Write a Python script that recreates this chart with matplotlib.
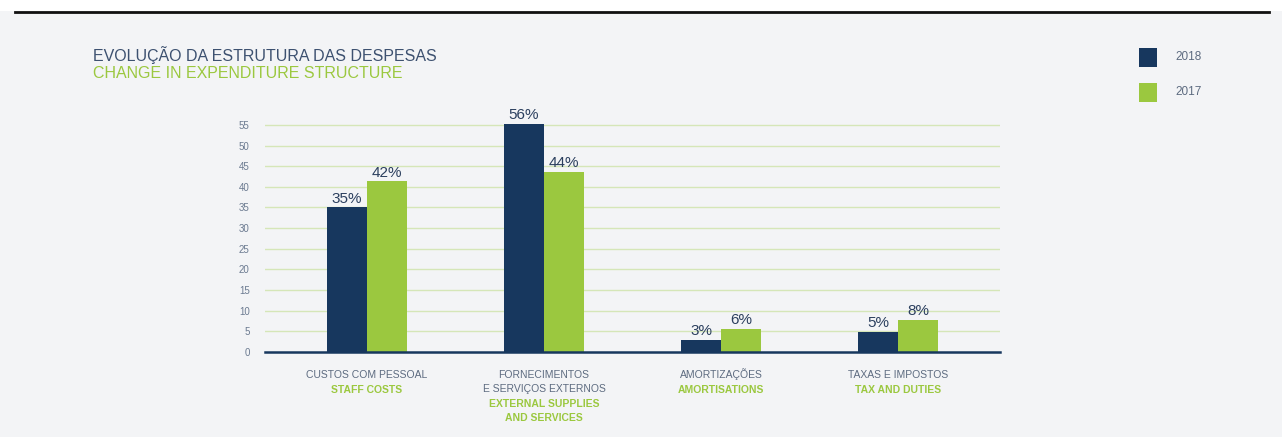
import matplotlib.pyplot as plt
import matplotlib.transforms as mtransforms
import numpy as np
from matplotlib.patches import Rectangle

# data
categories_pt = ["CUSTOS COM PESSOAL", "FORNECIMENTOS\nE SERVIÇOS EXTERNOS", "AMORTIZAÇÕES", "TAXAS E IMPOSTOS"]
categories_en = ["STAFF COSTS", "EXTERNAL SUPPLIES\nAND SERVICES", "AMORTISATIONS", "TAX AND DUTIES"]
values_2018 = [35.0, 55.3, 2.9, 4.9]
values_2017 = [41.3, 43.7, 5.6, 7.8]
labels_2018 = ["35%", "56%", "3%", "5%"]
labels_2017 = ["42%", "44%", "6%", "8%"]
yticks = [0, 5, 10, 15, 20, 25, 30, 35, 40, 45, 50, 55]

NAVY = "#17375e"
GREEN = "#9bc83f"
BG = "#f3f4f6"
GRID = "#d5e6b8"
TXT = "#3d5170"
TICK = "#6b7a90"

plt.rcParams["font.family"] = ["Liberation Sans Narrow", "Liberation Sans", "DejaVu Sans"]

W, H = 1282, 437
fig = plt.figure(figsize=(W / 100, H / 100), dpi=100, facecolor=BG)

# white strip and dark rule at the top
fig.patches.append(Rectangle((0, 1 - 11 / H), 1, 11 / H, transform=fig.transFigure,
                             facecolor="white", edgecolor="none", zorder=0))
fig.add_artist(plt.Line2D([0.012, 0.99], [1 - 11.5 / H, 1 - 11.5 / H], transform=fig.transFigure,
                          color="#111111", linewidth=2.0))

ax = fig.add_axes([265 / W, 1 - 352 / H, 735 / W, (352 - 116.6) / H])
ax.set_facecolor(BG)

x = np.arange(len(categories_pt))
w = 0.226
b1 = ax.bar(x - w / 2, values_2018, w, color=NAVY, zorder=3)
b2 = ax.bar(x + w / 2, values_2017, w, color=GREEN, zorder=3)

for rect, lab in zip(b1, labels_2018):
    ax.text(rect.get_x() + rect.get_width() / 2, rect.get_height() + 0.4, lab,
            ha="center", va="bottom", fontsize=11, color="#2b3f5e")
for rect, lab in zip(b2, labels_2017):
    ax.text(rect.get_x() + rect.get_width() / 2, rect.get_height() + 0.4, lab,
            ha="center", va="bottom", fontsize=11, color="#2b3f5e")

ax.set_xlim(-0.576, 3.576)
ax.set_ylim(0, 57)
ax.set_yticks(yticks)
ax.set_yticklabels([str(t) for t in yticks])
ax.tick_params(axis="y", length=0, labelsize=7, labelcolor=TICK, pad=11)
ax.set_xticks([])
for t in yticks[1:]:
    ax.axhline(t, color=GRID, linewidth=1.0, zorder=1)
for s in ["top", "right", "left"]:
    ax.spines[s].set_visible(False)
ax.spines["bottom"].set_color(NAVY)
ax.spines["bottom"].set_linewidth(1.8)
ax.spines["bottom"].set_zorder(4)

# category labels under the axis, one baseline per line (pixel rows from the top)
trans = mtransforms.blended_transform_factory(ax.transData, fig.transFigure)
for i in range(len(categories_pt)):
    pt_lines = categories_pt[i].split("\n")
    en_lines = categories_en[i].split("\n")
    base = 378
    for line in pt_lines:
        ax.text(x[i], 1 - base / H, line, transform=trans, ha="center", va="baseline",
                fontsize=7.5, color="#5d6b80")
        base += 14
    base += 1
    for line in en_lines:
        ax.text(x[i], 1 - base / H, line, transform=trans, ha="center", va="baseline",
                fontsize=7.5, color=GREEN, fontweight="bold")
        base += 14

# titles
fig.text(93 / W, 1 - 55 / H, "EVOLUÇÃO DA ESTRUTURA DAS DESPESAS", fontsize=11.5,
         color=TXT, va="center", ha="left")
fig.text(93 / W, 1 - 74 / H, "CHANGE IN EXPENDITURE STRUCTURE", fontsize=11.5,
         color=GREEN, va="center", ha="left")

# legend
for yc, col, lab in [(57.5, NAVY, "2018"), (92, GREEN, "2017")]:
    fig.patches.append(Rectangle((1139 / W, 1 - (yc + 9.5) / H), 18 / W, 19 / H,
                                 transform=fig.transFigure, facecolor=col, edgecolor="none"))
    fig.text(1175 / W, 1 - yc / H, lab, fontsize=8.5, color="#5d6b80", va="center", ha="left")

fig.savefig("out.png", dpi=100, facecolor=BG)
